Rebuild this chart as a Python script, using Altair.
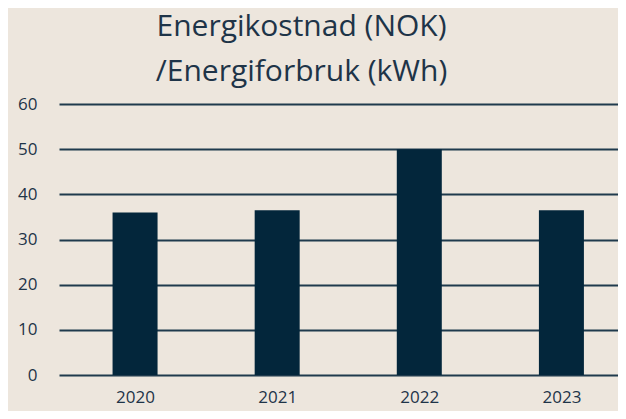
import altair as alt
import pandas as pd

years = [2020, 2021, 2022, 2023]
values = [36.0, 36.5, 50.0, 36.5]

df = pd.DataFrame({"year": years, "value": values})

BG = "#EDE6DD"
DARK = "#03263B"
TXT = "#1E3448"
FONT = "Open Sans"

bars = alt.Chart(df).mark_bar(color=DARK, size=45).encode(
    x=alt.X("year:Q",
            scale=alt.Scale(domain=[2019.5, 2023.363], nice=False, zero=False),
            axis=alt.Axis(values=years, format="d", title=None, grid=False,
                          domain=False, ticks=False, labelFontSize=17,
                          labelColor=TXT, labelFont=FONT, labelPadding=14)),
    y=alt.Y("value:Q",
            scale=alt.Scale(domain=[0, 60], nice=False),
            axis=alt.Axis(values=[0, 10, 20, 30, 40, 50, 60], title=None,
                          grid=True, gridColor="#1F3A4D", gridWidth=2,
                          domain=False, ticks=False, labelFontSize=17,
                          labelColor=TXT, labelFont=FONT, labelPadding=22)),
)

chart = bars.properties(
    width=610,
    height=403,
    autosize=alt.AutoSizeParams(type="fit", contains="padding"),
    title=alt.Title(["Energikostnad (NOK)", "/Energiforbruk (kWh)"],
                    fontSize=30, font=FONT, fontWeight="normal", color=TXT,
                    anchor="middle", lineHeight=45, offset=8, dx=-37),
    padding={"left": 9, "top": 4, "right": 0, "bottom": 6},
).configure(background=BG).configure_view(stroke=None)

chart.save("out.html", embed_options={"renderer": "svg", "actions": False})
